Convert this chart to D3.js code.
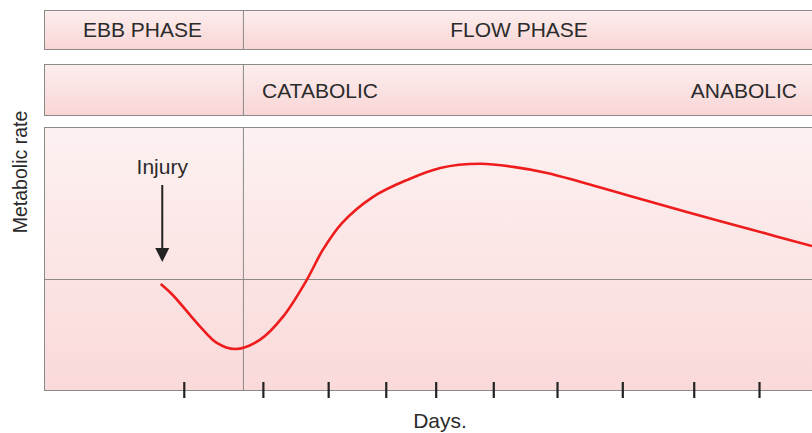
<!DOCTYPE html>
<html><head><meta charset="utf-8">
<script src="https://cdn.jsdelivr.net/npm/d3@7"></script>
<style>html,body{margin:0;padding:0;background:#fff;}svg{display:block;font-family:"Liberation Sans",Arial,sans-serif;}</style>
</head><body><svg id="c" width="812" height="433"></svg>
<script>
// Data (x: relative days scale 0-100, y: metabolic rate relative to baseline)
const curveX = [15.2,16.7,20.3,22.5,24.9,28.1,31.1,34.2,36.3,38.8,42.8,47.3,51.6,56.8,61.1,65.5,69.8,76.3,83.7,92.3,100];
const curveY = [-1.7,-5.5,-17.0,-23.0,-25.2,-21.9,-13.6,-0.3,10.6,20.3,29.7,35.9,40.2,41.7,40.6,38.4,35.2,30.1,24.3,17.8,12.0];
const dayTicks = [18.2,28.5,37.0,44.5,51.0,58.5,66.8,75.3,84.6,93.1];
const phaseBoundary = 25.9;
const injuryDay = 15.4;
const phaseLabels = ["EBB PHASE","FLOW PHASE"];
const metabLabels = ["CATABOLIC","ANABOLIC"];

const svg = d3.select("#c");
const x = d3.scaleLinear().domain([0,100]).range([44,812]);
const y = d3.scaleLinear().domain([-40,55]).range([390,127]);

const defs = svg.append("defs");
function grad(id, c1, c2){
  const g = defs.append("linearGradient").attr("id",id).attr("x1",0).attr("y1",0).attr("x2",0).attr("y2",1);
  g.append("stop").attr("offset","0%").attr("stop-color",c1);
  g.append("stop").attr("offset","100%").attr("stop-color",c2);
}
grad("gBox","#fdeeee","#f9d5d5");
grad("gMain","#fdf1f1","#fad9d9");

const stroke = "#8a8a8a";
const xL = x(0), xB = x(phaseBoundary), xR = 830;

// Top phase box
svg.append("rect").attr("x",xL+0.5).attr("y",10.5).attr("width",xR-xL).attr("height",39)
  .attr("fill","url(#gBox)").attr("stroke",stroke);
svg.append("line").attr("x1",xB+0.5).attr("x2",xB+0.5).attr("y1",10).attr("y2",50).attr("stroke",stroke);
// second box
svg.append("rect").attr("x",xL+0.5).attr("y",64.5).attr("width",xR-xL).attr("height",51)
  .attr("fill","url(#gBox)").attr("stroke",stroke);
svg.append("line").attr("x1",xB+0.5).attr("x2",xB+0.5).attr("y1",64).attr("y2",116).attr("stroke",stroke);
// main box
svg.append("rect").attr("x",xL+0.5).attr("y",127.5).attr("width",xR-xL).attr("height",263)
  .attr("fill","url(#gMain)").attr("stroke",stroke);
svg.append("line").attr("x1",xB+0.5).attr("x2",xB+0.5).attr("y1",127).attr("y2",391).attr("stroke",stroke);
svg.append("line").attr("x1",xL).attr("x2",xR).attr("y1",Math.round(y(0))+0.5).attr("y2",Math.round(y(0))+0.5).attr("stroke",stroke);

const txt = "#2b2b2b";
const fs = 21;
svg.append("text").attr("x",(xL+xB)/2-1).attr("y",37).attr("text-anchor","middle").attr("font-size",fs).attr("fill",txt).text(phaseLabels[0]);
svg.append("text").attr("x",519).attr("y",37).attr("text-anchor","middle").attr("font-size",fs).attr("fill",txt).text(phaseLabels[1]);
svg.append("text").attr("x",262).attr("y",98).attr("text-anchor","start").attr("font-size",fs).attr("fill",txt).text(metabLabels[0]);
svg.append("text").attr("x",797).attr("y",98).attr("text-anchor","end").attr("font-size",fs).attr("fill",txt).text(metabLabels[1]);

// axis ticks
const axis = d3.axisBottom(x).tickValues(dayTicks).tickSize(16).tickFormat("");
const ag = svg.append("g").attr("transform","translate(0,382)").call(axis);
ag.select(".domain").remove();
ag.selectAll(".tick line").attr("stroke","#222").attr("stroke-width",2.2);

// axis titles
svg.append("text").attr("x",440).attr("y",428).attr("text-anchor","middle").attr("font-size",fs).attr("fill",txt).text("Days.");
svg.append("text").attr("transform","translate(27,172) rotate(-90)").attr("text-anchor","middle").attr("font-size",19.5).attr("fill",txt).text("Metabolic rate");

// Injury annotation
const ix = x(injuryDay);
svg.append("text").attr("x",ix).attr("y",174).attr("text-anchor","middle").attr("font-size",fs).attr("fill",txt).text("Injury");
svg.append("line").attr("x1",ix).attr("x2",ix).attr("y1",185).attr("y2",250).attr("stroke","#222").attr("stroke-width",2);
svg.append("path").attr("d",`M${ix-7},248 L${ix+7},248 L${ix},262 Z`).attr("fill","#222");

// curve
const pts = curveX.map((d,i)=>[d,curveY[i]]);
const line = d3.line().x(d=>x(d[0])).y(d=>y(d[1])).curve(d3.curveCatmullRom.alpha(0.5));
svg.append("path").datum(pts).attr("d",line).attr("fill","none").attr("stroke","#ee1c1c").attr("stroke-width",2.6);
</script></body></html>
